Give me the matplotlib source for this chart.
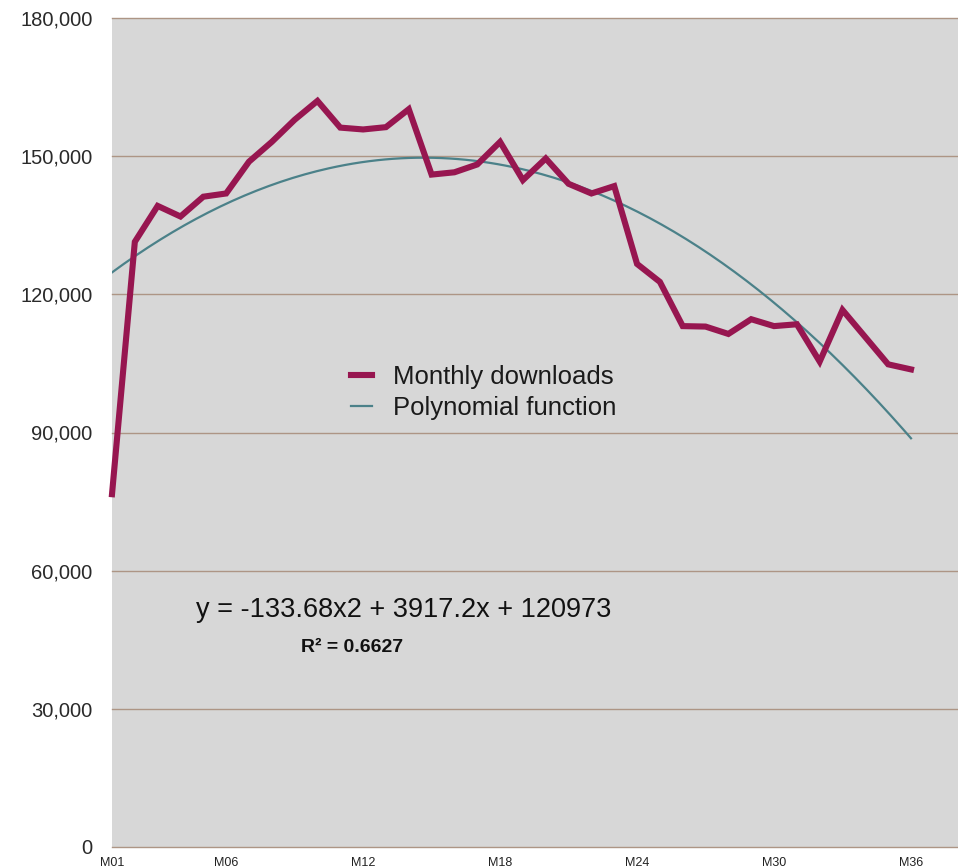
import matplotlib
matplotlib.use("Agg")
import matplotlib.pyplot as plt
import numpy as np

# monthly downloads
months = [f"M{i:02d}" for i in range(1, 37)]
downloads = [76600, 131400, 139200, 136900, 141200, 141900, 148800, 153100,
             157900, 162000, 156200, 155800, 156300, 160200, 146000, 146500,
             148200, 153100, 144800, 149500, 144000, 141900, 143500, 126600,
             122700, 113100, 113000, 111400, 114600, 113100, 113500, 105400,
             116600, 110700, 104800, 103700]
tick_months = ["M01", "M06", "M12", "M18", "M24", "M30", "M36"]
y_ticks = [0, 30000, 60000, 90000, 120000, 150000, 180000]

# trend line coefficients printed on the chart
poly_a, poly_b, poly_c = -133.68, 3917.2, 120973
r_squared = 0.6627

plt.rcParams["font.family"] = ["Liberation Sans", "DejaVu Sans"]

fig = plt.figure(figsize=(9.58, 8.67), dpi=100)
ax = fig.add_axes([112 / 958, 20 / 867, 846 / 958, 829 / 867])
ax.set_facecolor("#d7d7d7")

x = np.arange(len(months))
ax.plot(x, downloads, color="#971650", lw=4.4, solid_joinstyle="miter",
        label="Monthly downloads", zorder=3, clip_on=False)

xs = np.linspace(1, 36, 200)
trend = poly_a * xs ** 2 + poly_b * xs + poly_c
ax.plot(xs - 1, trend, color="#4b8189", lw=1.6, label="Polynomial function", zorder=2)

ax.set_xlim(0, 35 * 846 / 799)
ax.set_ylim(0, 180000)
ax.set_yticks(y_ticks)
ax.set_yticklabels([f"{v:,}" for v in y_ticks])
ax.set_xticks([months.index(m) for m in tick_months])
ax.set_xticklabels(tick_months)
ax.tick_params(axis="y", length=0, pad=14, labelsize=14.5, labelcolor="#2a2a2a")
ax.tick_params(axis="x", length=0, pad=7, labelsize=9, labelcolor="#222222")
for s in ax.spines.values():
    s.set_visible(False)
ax.grid(axis="y", color="#ad9585", lw=1.0)
for g in ax.yaxis.get_gridlines():
    g.set_clip_on(False)
ax.set_axisbelow(True)

leg = ax.legend(loc="upper left", bbox_to_anchor=(229 / 846, (847 - 355) / 829),
                frameon=False, fontsize=18.5, handlelength=0.8, handletextpad=0.84,
                labelspacing=0.28, borderaxespad=0)
for t in leg.get_texts():
    t.set_color("#1a1a1a")

ax.text(404, 610, f"y = {poly_a}x2 + {poly_b}x + {poly_c}", fontsize=19.5,
        ha="center", va="center", color="#111111", transform=None)
ax.text(352, 647, f"R² = {r_squared}", fontsize=14, fontweight="bold",
        ha="center", va="center", color="#111111", transform=None)

# place the annotation texts in pixel coordinates (origin top-left)
for t in ax.texts:
    px, py = t.get_position()
    t.set_transform(fig.dpi_scale_trans)
    t.set_position((px / 100, (867 - py) / 100))

fig.savefig("out.png", dpi=100)
